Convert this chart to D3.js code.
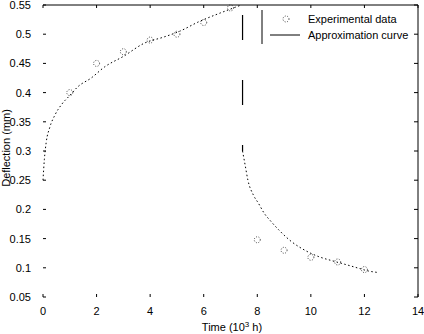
<!DOCTYPE html>
<html>
<head>
<meta charset="utf-8">
<script src="https://cdn.jsdelivr.net/npm/d3@7"></script>
<style>
  body { margin: 0; background: #fff; }
  text { font-family: "Liberation Sans", Arial, sans-serif; fill: #000; }
</style>
</head>
<body>
<svg id="chart" width="424" height="334"></svg>
<script>
// measured points
const expTime = [1, 2, 3, 4, 5, 6, 7, 8, 9, 10, 11, 12],
    expDefl = [0.40, 0.45, 0.47, 0.49, 0.50, 0.52, 0.545, 0.148, 0.13, 0.118, 0.11, 0.097];

// approximation curve
const riseTime = [0, 0.05, 0.12, 0.25, 0.45, 0.7, 1.0, 1.3, 1.8, 2.3, 3.0, 3.8, 4.5, 5.1, 5.8, 6.6, 7.0, 7.4],
    riseDefl = [0.25, 0.285, 0.315, 0.34, 0.362, 0.38, 0.395, 0.41, 0.425, 0.444, 0.462, 0.485, 0.495, 0.505, 0.521, 0.536, 0.543, 0.55];
const jumpTime = [7.45, 7.45],
    jumpDefl = [0.55, 0.30];
const decayTime = [7.45, 7.55, 7.65, 7.85, 8.05, 8.25, 8.5, 8.8, 9.3, 9.7, 10.3, 10.8, 11.35, 11.8, 12.1, 12.5],
    decayDefl = [0.30, 0.275, 0.25, 0.225, 0.21, 0.194, 0.18, 0.165, 0.144, 0.132, 0.119, 0.112, 0.105, 0.099, 0.095, 0.092];

const xTicks = [0, 2, 4, 6, 8, 10, 12, 14],
    yTicks = [0.05, 0.1, 0.15, 0.2, 0.25, 0.3, 0.35, 0.4, 0.45, 0.5, 0.55];

const svg = d3.select("#chart"),
    pL = 43, pR = 418, pT = 5, pB = 297;

const x = d3.scaleLinear().domain([0, 14]).range([pL, pR]),
    y = d3.scaleLinear().domain([0.05, 0.55]).range([pB, pT]);

// frame (only top and right survive in the scan)
svg.append("line")
    .attr("x1", pL).attr("x2", pR).attr("y1", pT).attr("y2", pT)
    .attr("stroke", "#000");
svg.append("line")
    .attr("x1", pR).attr("x2", pR).attr("y1", pT).attr("y2", pB)
    .attr("stroke", "#000");

// ticks
const fmtY = d => String(+d.toFixed(2));
svg.selectAll("line.yt")
    .data(yTicks)
    .enter().append("line")
    .attr("class", "yt")
    .attr("x1", pL).attr("x2", pL + 3)
    .attr("y1", d => y(d)).attr("y2", d => y(d))
    .attr("stroke", "#000");
svg.selectAll("line.yt2")
    .data(yTicks)
    .enter().append("line")
    .attr("class", "yt2")
    .attr("x1", pR - 4).attr("x2", pR)
    .attr("y1", d => y(d)).attr("y2", d => y(d))
    .attr("stroke", "#000");
svg.selectAll("text.yl")
    .data(yTicks)
    .enter().append("text")
    .attr("class", "yl")
    .attr("x", 31)
    .attr("y", d => y(d) + 4)
    .attr("text-anchor", "end")
    .attr("font-size", 11)
    .text(fmtY);

svg.selectAll("line.xt")
    .data(xTicks)
    .enter().append("line")
    .attr("class", "xt")
    .attr("x1", d => x(d)).attr("x2", d => x(d))
    .attr("y1", pB).attr("y2", pB - 3)
    .attr("stroke", "#000");
svg.selectAll("line.xt2")
    .data(xTicks)
    .enter().append("line")
    .attr("class", "xt2")
    .attr("x1", d => x(d)).attr("x2", d => x(d))
    .attr("y1", pT).attr("y2", pT + 3)
    .attr("stroke", "#000");
svg.selectAll("text.xl")
    .data(xTicks)
    .enter().append("text")
    .attr("class", "xl")
    .attr("x", d => x(d))
    .attr("y", pB + 18)
    .attr("text-anchor", "middle")
    .attr("font-size", 11)
    .text(d => d);

// axis titles
const xt = svg.append("text")
    .attr("x", 232).attr("y", 331)
    .attr("text-anchor", "middle")
    .attr("font-size", 11);
xt.append("tspan").text("Time (10");
xt.append("tspan").attr("dy", -4).attr("font-size", 8).text("3");
xt.append("tspan").attr("dy", 4).text(" h)");

svg.append("text")
    .attr("transform", "translate(10,148) rotate(-90)")
    .attr("text-anchor", "middle")
    .attr("font-size", 11)
    .text("Deflection (mm)");

// curve
const line = d3.line().x(d => x(d[0])).y(d => y(d[1])).curve(d3.curveMonotoneX);
svg.append("path")
    .datum(d3.zip(riseTime, riseDefl))
    .attr("d", line)
    .attr("fill", "none").attr("stroke", "#000").attr("stroke-width", 1)
    .attr("stroke-dasharray", "1.5,2.5");
svg.append("path")
    .datum(d3.zip(jumpTime, jumpDefl))
    .attr("d", d3.line().x(d => x(d[0])).y(d => y(d[1])))
    .attr("fill", "none").attr("stroke", "#000").attr("stroke-width", 1.2)
    .attr("stroke-dasharray", "0,10,25,30");
svg.append("path")
    .datum(d3.zip(decayTime, decayDefl))
    .attr("d", d3.line().x(d => x(d[0])).y(d => y(d[1])).curve(d3.curveMonotoneX))
    .attr("fill", "none").attr("stroke", "#000").attr("stroke-width", 1)
    .attr("stroke-dasharray", "1.5,2.5");

// experimental points
svg.selectAll("circle.pt")
    .data(d3.zip(expTime, expDefl))
    .enter().append("circle")
    .attr("class", "pt")
    .attr("cx", d => x(d[0])).attr("cy", d => y(d[1]))
    .attr("r", 3)
    .attr("fill", "none").attr("stroke", "#000").attr("stroke-width", 0.7)
    .attr("stroke-dasharray", "1,1.5");

// legend
const lg = svg.append("g");
lg.append("line")
    .attr("x1", 262).attr("x2", 262).attr("y1", 10).attr("y2", 44)
    .attr("stroke", "#000");
lg.append("circle")
    .attr("cx", 286).attr("cy", 19).attr("r", 3)
    .attr("fill", "none").attr("stroke", "#000").attr("stroke-width", 0.7)
    .attr("stroke-dasharray", "1,1.5");
lg.append("line")
    .attr("x1", 270).attr("x2", 300).attr("y1", 35).attr("y2", 35)
    .attr("stroke", "#000");
lg.append("text").attr("x", 308).attr("y", 23).attr("font-size", 11).text("Experimental data");
lg.append("text").attr("x", 308).attr("y", 39).attr("font-size", 11).text("Approximation curve");
</script>
</body>
</html>
